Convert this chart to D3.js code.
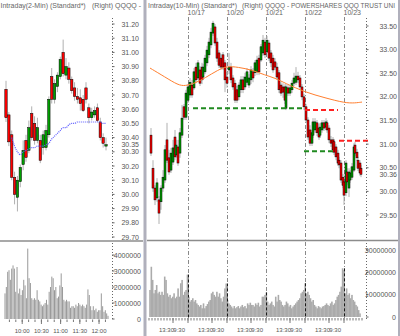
<!DOCTYPE html>
<html><head><meta charset="utf-8">
<script src="https://cdn.jsdelivr.net/npm/d3@7"></script>
<style>
html,body{margin:0;padding:0;background:#fff;}
svg{display:block;font-family:"Liberation Sans",Arial,sans-serif;}
</style></head><body>
<svg id="c" width="400" height="336"></svg>
<script>
// ---------- LEFT PANEL DATA (2-min, 10/23) ----------
const leftTitle = ["Intraday(2-Min) (Standard*)", "(Right)", "QQQQ -"];
const leftOHLC = [
[30.74,30.80,30.51,30.54],[30.56,30.58,30.34,30.37],[30.42,30.45,30.10,30.12],[30.12,30.16,29.93,30.00],
[29.98,30.13,29.88,30.10],[30.09,30.21,30.05,30.19],[30.21,30.38,30.17,30.31],[30.38,30.42,30.23,30.26],
[30.31,30.52,30.29,30.47],[30.57,30.62,30.38,30.40],[30.50,30.55,30.35,30.38],[30.38,30.54,30.36,30.47],
[30.38,30.42,30.22,30.24],[30.33,30.45,30.28,30.42],[30.33,30.49,30.31,30.45],[30.42,30.69,30.40,30.67],
[30.83,30.89,30.64,30.67],[30.67,30.81,30.64,30.78],[30.76,30.86,30.72,30.84],[30.83,30.97,30.81,30.95],
[31.00,31.09,30.83,30.85],[30.84,30.96,30.81,30.90],[30.89,30.93,30.78,30.81],[30.81,30.83,30.71,30.73],
[30.75,30.79,30.66,30.69],[30.69,30.75,30.64,30.67],[30.68,30.74,30.59,30.64],[30.67,30.70,30.58,30.59],
[30.75,30.79,30.64,30.67],[30.61,30.64,30.50,30.54],[30.54,30.61,30.52,30.58],[30.56,30.62,30.54,30.59],
[30.61,30.64,30.51,30.52],[30.51,30.54,30.38,30.40],[30.40,30.43,30.33,30.36],[30.34,30.40,30.31,30.35]
];
const leftMA = [null,null,30.40,30.34,30.30,30.28,30.30,30.31,30.32,30.33,30.33,30.34,30.34,30.34,30.35,30.36,
30.39,30.41,30.43,30.45,30.47,30.47,30.49,30.50,30.50,30.51,30.51,30.51,30.51,30.51,30.51,30.51,30.51,30.51,30.50,30.50];
const leftVolume = [1.6,2.0,2.95,3.05,2.45,3.15,3.35,3.15,1.7,3.25,1.6,1.9,1.5,1.8,2.45,2.1,1.3,4.4,2.55,2.25,
1.3,1.2,1.3,1.2,1.8,1.2,1.1,0.9,0.8,0.9,1.0,1.2,0.9,1.7,2.0,2.65,2.55,1.8,2.0,1.3,1.4,2.1,2.85,2.0,1.2,1.1,1.2,
1.1,1.1,0.7,0.8,0.8,0.7,0.9,0.8,1.0,0.9,0.8,0.9,0.8,0.7,0.9,1.85,1.5,0.8,0.55,0.8,0.55,0.65,0.45,0.55,0.55,1.6,
0.8,0.45,0.55,0.35,0.2]; // millions
const leftPriceTicks = [29.70,29.80,29.90,30.00,30.10,30.20,30.30,30.40,30.50,30.60,30.70,30.80,30.90,31.00,31.10,31.20];
const leftLast = 30.35;
const leftVolTicks = [0,1,2,3,4];
const leftVolLabels = ["0","1000000","2000000","3000000","4000000"];
const leftSession = ["9:30","12:14"];
const leftTimeLabels = ["10:00","10:30","11:00","11:30","12:00"];

// ---------- RIGHT PANEL DATA (10-min, 10/16 - 10/23) ----------
const rightTitle = ["Intraday(10-Min) (Standard*)", "(Right)", "QQQQ - POWERSHARES QQQ TRUST UNI"];
const rightBar = [2,4,6,8,10,12,14,16,18,20,22,24,26,27,29,31,33,35,37,39,41,43,45,47,49,51,53,54,56,58,60,62,
64,66,68,70,72,74,76,78,80,82,84,86,88,90,92,94,96,98,100,102,104,106,108,110,112,114,116,118,120,122,124,126,
128,130,132,134,136,137,139,141,143,145,147,149,151,153,155,157,159,161,163,164,166,168,170,171,173,175,177,178,
180,182,184,185,187,189,190,192,194,195,197,198,200,201,203,205,206,208,209,211,212];
const rightOHLC = [
[31.19,31.34,30.75,30.81],[30.49,30.66,29.99,30.07],[30.07,30.13,29.71,29.82],[29.86,30.28,29.78,30.18],
[29.82,29.90,29.31,29.54],[29.78,30.13,29.61,30.07],[30.07,30.45,29.99,30.30],[30.24,30.98,30.18,30.88],
[31.09,31.45,30.60,30.66],[30.71,30.88,30.35,30.41],[30.45,30.92,30.39,30.81],[30.62,31.09,30.56,30.92],
[31.15,31.30,30.66,30.73],[30.77,31.09,30.71,30.98],[30.94,31.09,30.54,30.60],[30.81,31.34,30.71,31.24],
[31.19,31.83,31.13,31.55],[31.79,31.85,31.51,31.57],[31.57,32.15,31.51,32.08],[31.93,32.27,31.87,32.21],
[32.04,32.40,31.98,32.31],[32.25,32.36,31.98,32.04],[32.19,32.61,32.15,32.53],[32.63,32.72,32.29,32.36],
[32.40,32.78,32.36,32.72],[32.57,32.65,32.23,32.29],[32.63,32.72,32.27,32.36],[32.42,32.70,32.36,32.63],
[32.53,32.89,32.48,32.82],[32.72,33.08,32.65,32.99],[32.89,33.25,32.82,33.16],[33.10,33.46,33.03,33.37],
[33.35,33.61,33.29,33.56],[33.48,33.54,33.08,33.14],[33.16,33.25,32.74,32.82],[32.93,32.99,32.61,32.67],
[32.82,32.91,32.57,32.63],[32.89,32.95,32.57,32.63],[32.72,32.78,32.10,32.36],[32.42,32.53,32.19,32.29],
[32.57,32.93,32.48,32.63],[32.63,32.72,32.29,32.36],[32.40,32.46,32.15,32.21],[32.29,32.36,31.87,31.93],
[32.15,32.23,31.87,31.93],[32.00,32.31,31.93,32.25],[32.15,32.44,32.08,32.36],[32.36,32.44,32.08,32.15],
[32.21,32.51,32.15,32.42],[32.31,32.61,32.25,32.53],[32.25,32.48,32.19,32.40],[32.36,32.65,32.27,32.57],
[32.53,32.61,32.31,32.40],[32.51,32.78,32.44,32.72],[32.53,32.87,32.46,32.78],[32.82,32.89,32.46,32.53],
[32.78,33.12,32.74,33.06],[32.93,33.31,32.87,33.20],[33.16,33.25,32.82,32.89],[32.95,33.29,32.93,33.20],
[33.14,33.20,32.76,32.82],[32.93,32.99,32.63,32.72],[32.82,32.89,32.51,32.57],[32.74,32.82,32.57,32.63],
[32.63,32.72,32.36,32.42],[32.51,32.57,32.08,32.15],[32.25,32.31,32.02,32.08],[32.21,32.29,31.98,32.10],
[32.21,32.27,31.85,31.93],[31.76,32.27,31.72,32.21],[32.19,32.25,32.02,32.08],[32.08,32.25,32.02,32.19],
[32.15,32.36,32.08,32.29],[32.29,32.51,32.23,32.40],[32.31,32.63,32.25,32.44],[32.44,32.53,32.29,32.36],
[32.40,32.46,32.15,32.21],[32.21,32.27,31.93,32.00],[32.00,32.06,31.72,31.79],[31.79,31.85,31.45,31.51],
[31.51,31.57,31.09,31.15],[31.30,31.40,30.96,31.02],[31.02,31.30,30.96,31.24],[31.19,31.55,31.13,31.47],
[31.30,31.55,31.24,31.47],[31.45,31.51,31.17,31.24],[31.34,31.43,31.09,31.15],[31.19,31.45,31.13,31.36],
[31.30,31.51,31.24,31.45],[31.45,31.51,31.28,31.34],[31.36,31.55,31.30,31.47],[31.45,31.51,31.24,31.30],
[31.34,31.40,31.02,31.09],[31.09,31.17,30.94,31.02],[31.09,31.15,30.81,30.88],[31.05,31.11,30.77,30.83],
[30.94,31.00,30.66,30.73],[30.81,30.88,30.54,30.60],[30.66,30.73,30.49,30.56],[30.60,30.66,30.18,30.24],
[30.30,30.37,30.07,30.13],[30.20,30.26,29.71,29.92],[29.97,30.66,29.90,30.60],[30.41,30.49,30.13,30.20],
[30.07,30.49,29.88,30.41],[30.24,30.45,30.18,30.39],[30.30,30.60,30.24,30.52],[30.45,31.02,30.41,30.94],
[30.98,31.05,30.75,30.81],[30.83,30.90,30.64,30.71],[30.66,30.73,30.43,30.49],[30.60,30.66,30.33,30.39],
[30.49,30.56,30.30,30.36]
];
const rightMABar = [1,16,29,36,46,56,69,78,89,103,116,126,136,156,176,196,206,213];
const rightMA = [32.61,32.42,32.25,32.23,32.29,32.40,32.57,32.65,32.63,32.57,32.46,32.40,32.29,32.10,31.98,31.87,31.87,31.89];
const rightVolume = [12.1,22.5,16.6,10.6,12.1,14.3,10.6,11.3,9.9,11.3,9.9,18.1,16.6,10.6,9.1,9.9,8.4,9.1,10.6,8.4,
9.1,12.8,9.1,15.1,16.6,9.9,11.3,12.1,19,9.1,6.9,7.6,8.4,6.9,7.6,6.1,5.4,4.7,5.4,3.9,6.1,3.9,4.9,5.8,6.9,7.6,10.6,
11.3,9.9,9.1,11.3,9.1,10.6,8.4,6.9,9.1,12.8,15,7.6,6.1,5.4,4.7,3.9,4.9,3.9,4.4,4.9,3.9,4.7,5.4,4.4,4.9,3.9,6.1,5.4,
6.4,5.4,5.4,4.7,6.1,5.4,6.4,4.7,5.4,9.1,9.1,9.9,11,6.9,5.4,6.1,6.9,5.4,4.7,9.1,6.9,9.9,7.6,6.9,5.4,4.7,5.4,6.9,6.1,
4.7,5.4,3.9,4.7,5.4,6.1,6.9,7.6,8.4,10.6,11.3,12.1,15.1,10.6,11.3,9.9,8.4,6.9,7.6,5.4,4.7,3.9,4.9,4.4,3.9,4.7,4.9,
5.4,6.1,5.4,4.9,6.1,6.9,5.4,6.1,7.6,9.1,9.9,11.3,13.6,21.8,21.0,10.6,12.8,9.9,10.6,8.4,9.9,7.6,6.9,5.4,4.7,3.1,1.6]; // millions
const rightVolSpan = [1,211];
const dayBars = [39,78,117,156,195];
const dayLabels = ["10/17","10/20","10/21","10/22","10/23"];
const midBars = [24,63,102,141,180];
const rightTimeLabels = ["13:30","9:30"];
const rightPriceTicks = [29.50,30.00,30.50,31.00,31.50,32.00,32.50,33.00,33.50];
const rightLast = 30.36;
const rightVolTicks = [0,10,20,30];
const rightVolLabels = ["0","10000000","20000000","30000000"];
const levelStart = [44,156,155,190];
const levelEnd   = [156,189,186,221];
const levelPrice = [31.76,31.72,30.85,31.07];
const levelKind  = ["support","resist","support","resist"];

// ---------- DRAW ----------
const svg = d3.select('#c');
const UP = '#00a000', DN = '#ff0000', WICK = '#b0b0b0', LBL = '#555';

const defs = svg.append('defs');
defs.append('clipPath').attr('id','clipL').append('rect').attr('x',0).attr('y',0).attr('width',143).attr('height',336);
defs.append('clipPath').attr('id','clipR').append('rect').attr('x',147).attr('y',0).attr('width',251).attr('height',336);

const L = svg.append('g').attr('clip-path','url(#clipL)');
const R = svg.append('g').attr('clip-path','url(#clipR)');
const T = svg.append('g');

// scales
const yL = d3.scaleLinear().domain([29.70,31.20]).range([237,24]);
const xLc = d3.scalePoint().domain(d3.range(leftOHLC.length)).range([6,106]);
const parseT = d3.timeParse('%H:%M');
const xLt = d3.scaleTime().domain(leftSession.map(parseT)).range([3,108]);
const xLv = d3.scalePoint().domain(d3.range(leftVolume.length)).range([5,108]);
const yLv = d3.scaleLinear().domain([0,4]).range([319,255]);

const yR = d3.scaleLinear().domain([29.50,33.50]).range([215,26]);
const xR = d3.scaleLinear().domain([0,234]).range([149,383]);
const xRv = d3.scalePoint().domain(d3.range(rightVolume.length)).range(rightVolSpan.map(xR));
const yRv = d3.scaleLinear().domain([0,30]).range([317,250]);

// titles
function text(g,x,y,s,anchor,size,color){
  return g.append('text').attr('x',x).attr('y',y).attr('text-anchor',anchor||'start')
    .attr('font-size',size||7).attr('fill',color||LBL).text(s);
}
[0.5,92,115].forEach((x,i)=>text(T,x,7.5,leftTitle[i],'start',7,'#666'));
[148,242].forEach((x,i)=>text(T,x,7.5,rightTitle[i],'start',7,'#666'));
text(T,265,7.5,rightTitle[2],'start',6.4,'#666')
  .attr('textLength',130).attr('lengthAdjust','spacingAndGlyphs');

// separators
svg.append('rect').attr('x',143.5).attr('y',0).attr('width',3).attr('height',336).attr('fill','#b0b0bc');
svg.append('rect').attr('x',398).attr('y',0).attr('width',2).attr('height',336).attr('fill','#b0b0bc');
L.append('line').attr('x1',0).attr('x2',143.5).attr('y1',241).attr('y2',241).attr('stroke','#8c8c8c').attr('stroke-width',1.5);
R.append('line').attr('x1',146).attr('x2',398).attr('y1',240.5).attr('y2',240.5).attr('stroke','#8c8c8c').attr('stroke-width',1.5);

// ----- right day lines -----
dayBars.forEach((b,i)=>{
  const x = Math.round(xR(b))+0.5;
  R.append('line').attr('x1',x).attr('x2',x).attr('y1',17).attr('y2',318)
    .attr('stroke','#8a8a8a').attr('stroke-dasharray','4,2,1,2');
  text(R,x-1,14.5,dayLabels[i],'start',7,'#666');
});

// ----- volumes -----
L.selectAll('rect.vl').data(leftVolume).join('rect').attr('class','vl')
  .attr('x',(d,i)=>xLv(i)-0.5).attr('width',1)
  .attr('y',d=>yLv(d)).attr('height',d=>yLv(0)-yLv(d)).attr('fill','#9a9a9a');
R.selectAll('rect.vr').data(rightVolume).join('rect').attr('class','vr')
  .attr('x',(d,i)=>xRv(i)-0.8).attr('width',1.6)
  .attr('y',d=>yRv(d)).attr('height',d=>yRv(0)-yRv(d)).attr('fill','#ababab');
// dark day marker over volume
dayBars.forEach(b=>{
  const x = Math.round(xR(b))+0.5;
  let best=0, bd=1e9;
  rightVolume.forEach((v,i)=>{const dd=Math.abs(xRv(i)-xR(b)); if(dd<bd){bd=dd;best=i;}});
  const v = d3.max(rightVolume.slice(Math.max(0,best-1),best+2));
  R.append('line').attr('x1',x).attr('x2',x).attr('y1',yRv(v)).attr('y2',yRv(0))
    .attr('stroke','#1a1a1a').attr('stroke-dasharray','3,2');
});

// ----- candles -----
function candles(g, data, xf, yf, w){
  const c = g.append('g');
  data.forEach((d,i)=>{
    const [o,h,l,cl] = d, x = xf(i);
    c.append('line').attr('x1',x).attr('x2',x).attr('y1',yf(h)).attr('y2',yf(l)).attr('stroke',WICK).attr('stroke-width',1);
  });
  data.forEach((d,i)=>{
    const [o,h,l,cl] = d, x = xf(i);
    const top = yf(Math.max(o,cl)), bot = yf(Math.min(o,cl));
    c.append('rect').attr('x',x-w/2).attr('width',w).attr('y',top).attr('height',Math.max(1,bot-top))
      .attr('fill', cl>=o?UP:DN).attr('stroke','#000').attr('stroke-width',0.5);
  });
}
candles(L, leftOHLC, i=>xLc(i), yL, 2.4);
candles(R, rightOHLC, i=>xR(rightBar[i]), yR, 2.0);

// ----- moving averages -----
L.append('path').datum(leftMA.map((v,i)=>[i,v]).filter(d=>d[1]!=null))
  .attr('d', d3.line().x(d=>xLc(d[0])).y(d=>yL(d[1])).curve(d3.curveMonotoneX))
  .attr('fill','none').attr('stroke','#5a5aff').attr('stroke-width',1.2).attr('stroke-dasharray','1,1');
R.append('path').datum(rightMABar.map((b,i)=>[b,rightMA[i]]))
  .attr('d', d3.line().x(d=>xR(d[0])).y(d=>yR(d[1])).curve(d3.curveBasis))
  .attr('fill','none').attr('stroke','#ff7f30').attr('stroke-width',1);

// ----- levels -----
levelPrice.forEach((p,i)=>{
  R.append('line').attr('x1',xR(levelStart[i])).attr('x2',xR(levelEnd[i]))
    .attr('y1',yR(p)).attr('y2',yR(p))
    .attr('stroke', levelKind[i]==='support' ? '#208a20' : '#ff2020')
    .attr('stroke-width',2).attr('stroke-dasharray','5,3');
});

// ----- axes -----
function vAxis(g, x, y0, y1){
  g.append('line').attr('x1',x).attr('x2',x).attr('y1',y0).attr('y2',y1)
    .attr('stroke','#666').attr('stroke-dasharray','1,2');
}
// left price
vAxis(L,112.5,18,240);
leftPriceTicks.forEach(v=>{
  L.append('line').attr('x1',112).attr('x2',114.5).attr('y1',yL(v)).attr('y2',yL(v)).attr('stroke','#666');
  text(L,139,yL(v)+2.5,d3.format('.2f')(v),'end',7);
});
text(L,139,yL(leftLast)+2.5,d3.format('.2f')(leftLast),'end',7);
// left volume
vAxis(L,112.5,243,320);
leftVolTicks.forEach((v,i)=>{
  L.append('line').attr('x1',112).attr('x2',114.5).attr('y1',yLv(v)).attr('y2',yLv(v)).attr('stroke','#666');
  text(L,141,yLv(v)+2.5,leftVolLabels[i],'end',7);
});
// left time
d3.timeMinute.every(10).range(xLt.domain()[0], xLt.domain()[1]).forEach(t=>{
  if (+t === +xLt.domain()[0]) return;
  L.append('line').attr('x1',xLt(t)).attr('x2',xLt(t)).attr('y1',319.5).attr('y2',322).attr('stroke','#777');
});
leftTimeLabels.forEach(s=>{
  const x = xLt(parseT(s));
  L.append('line').attr('x1',x).attr('x2',x).attr('y1',319.5).attr('y2',324).attr('stroke','#777');
  text(L,x,333,s,'middle',6);
});

// right price
vAxis(R,366.5,18,240);
rightPriceTicks.forEach(v=>{
  R.append('line').attr('x1',366).attr('x2',368.5).attr('y1',yR(v)).attr('y2',yR(v)).attr('stroke','#666');
  text(R,397,yR(v)+2.5,d3.format('.2f')(v),'end',7);
});
text(R,397,yR(rightLast)+2.5,d3.format('.2f')(rightLast),'end',7);
// right volume
vAxis(R,366.5,243,320);
rightVolTicks.forEach((v,i)=>{
  R.append('line').attr('x1',366).attr('x2',368.5).attr('y1',yRv(v)).attr('y2',yRv(v)).attr('stroke','#666');
  text(R,396,yRv(v)+2.5,rightVolLabels[i],'end',7);
});
// right time ticks
d3.range(0,214,3).forEach(b=>{
  R.append('line').attr('x1',xR(b)).attr('x2',xR(b)).attr('y1',318).attr('y2',320.5).attr('stroke','#777');
});
midBars.forEach((b,i)=>{
  const x1 = xR(b), x2 = xR(dayBars[i]);
  R.append('line').attr('x1',x1).attr('x2',x1).attr('y1',318).attr('y2',323).attr('stroke','#777');
  R.append('line').attr('x1',x2).attr('x2',x2).attr('y1',318).attr('y2',323).attr('stroke','#777');
  text(R,x1+1,332,rightTimeLabels[0],'end',6);
  text(R,x2-3,332,rightTimeLabels[1],'end',6);
});
</script>
</body></html>
